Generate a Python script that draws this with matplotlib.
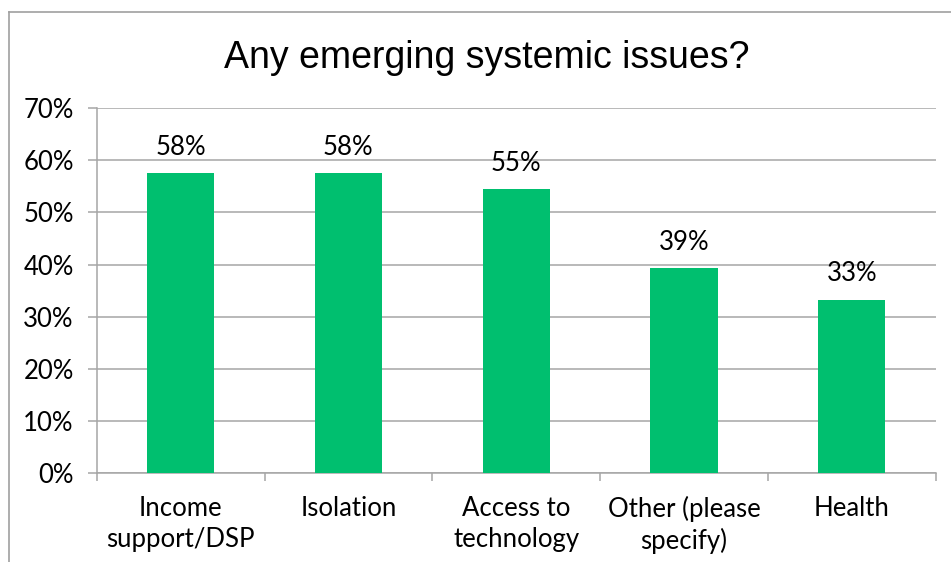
# Bar chart: Any emerging systemic issues?
import matplotlib
matplotlib.use("Agg")
import matplotlib.pyplot as plt
from matplotlib.lines import Line2D
from matplotlib.ticker import PercentFormatter

categories = ["Income\nsupport/DSP", "Isolation", "Access to\ntechnology",
              "Other (please\nspecify)", "Health"]
values = [57.6, 57.6, 54.5, 39.4, 33.3]
labels = ["58%", "58%", "55%", "39%", "33%"]
yticks = [0, 10, 20, 30, 40, 50, 60, 70]

GREEN = "#00BF6F"
GRID = "#A6A6A6"
LABEL_FONT = ["Lato", "DejaVu Sans"]
FS = 18.5

W, H = 951, 562
fig = plt.figure(figsize=(W / 100, H / 100), dpi=100)
ax = fig.add_axes([96.7 / W, 1 - 473.3 / H, (935.7 - 96.7) / W, (473.3 - 108) / H])

x = range(len(categories))
ax.bar(x, values, width=0.4, color=GREEN, zorder=3)
for xi, v, lab in zip(x, values, labels):
    ax.annotate(lab, (xi, v), xytext=(0, 13), textcoords="offset points",
                ha="center", va="baseline", fontsize=FS, family=LABEL_FONT)

ax.set_xlim(-0.5, len(categories) - 0.5)
ax.set_ylim(0, 70)
ax.set_yticks(yticks)
ax.yaxis.set_major_formatter(PercentFormatter(decimals=0))
ax.grid(axis="y", color=GRID, linewidth=1.1, zorder=0)

ax.set_xticks(list(x))
ax.set_xticklabels(categories, family=LABEL_FONT, fontsize=FS, linespacing=1.3)
ax.set_xticks([i - 0.5 for i in range(len(categories) + 1)], minor=True)
ax.tick_params(axis="x", which="major", length=0, pad=16)
ax.tick_params(axis="x", which="minor", length=6, width=1.1, color=GRID, direction="out")
ax.tick_params(axis="y", length=6.5, width=1.1, color=GRID, pad=10)
for t in ax.get_yticklabels():
    t.set_family(LABEL_FONT)
    t.set_fontsize(FS)

for side in ["top", "right"]:
    ax.spines[side].set_visible(False)
for side in ["left", "bottom"]:
    ax.spines[side].set_color(GRID)
    ax.spines[side].set_linewidth(1.1)

fig.text(486.5 / W, 1 - 68 / H, "Any emerging systemic issues?", ha="center",
         va="baseline", fontsize=27, family="Liberation Sans")

# outer chart frame (cut off on the right and bottom)
fig.add_artist(Line2D([9 / W, 9 / W], [0, 1 - 12 / H], color="#A0A0A0", linewidth=1.2))
fig.add_artist(Line2D([9 / W, 1], [1 - 12 / H, 1 - 12 / H], color="#A0A0A0", linewidth=1.2))

fig.savefig("out.png", dpi=100)
